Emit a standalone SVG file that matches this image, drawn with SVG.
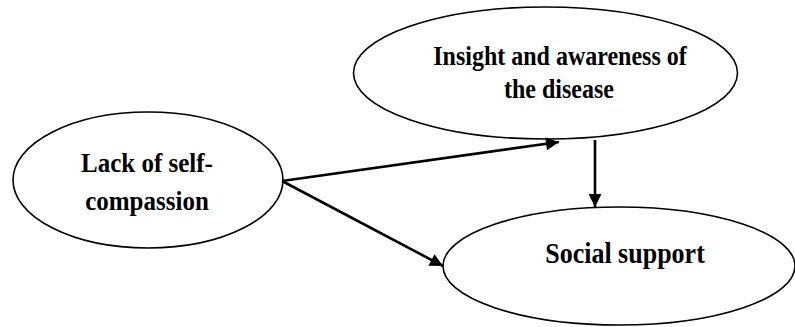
<svg xmlns="http://www.w3.org/2000/svg" width="795" height="327" viewBox="0 0 795 327">
<style>
.node ellipse{fill:#fff;stroke:#000;stroke-width:1.6}
.node text{font-family:"Liberation Serif","Times New Roman",serif;font-weight:bold;fill:#000;text-anchor:middle}
.edge{stroke:#000;stroke-width:2.6;fill:none;marker-end:url(#ah)}
</style>
<defs>
<marker id="ah" viewBox="0 0 10 10" refX="10" refY="5" markerUnits="userSpaceOnUse" markerWidth="17" markerHeight="13" orient="auto">
<path d="M0,0 L10,5 L0,10 z" fill="#000"/>
</marker>
</defs>
<rect width="795" height="327" fill="#fff"/>
<g id="lack" class="node">
<ellipse cx="148" cy="180" rx="135" ry="68"/>
<text transform="translate(147,172) scale(1,1.12)" font-size="25">Lack of self-</text>
<text transform="translate(147,210) scale(1,1.12)" font-size="25">compassion</text>
</g>
<g id="insight" class="node">
<ellipse cx="545.5" cy="73" rx="192" ry="66"/>
<text transform="translate(560,65) scale(1,1.15)" font-size="24">Insight and awareness of</text>
<text transform="translate(559,98) scale(1,1.15)" font-size="24">the disease</text>
</g>
<g id="support" class="node">
<ellipse cx="619" cy="266" rx="176" ry="59"/>
<text transform="translate(625,263) scale(1,1.12)" font-size="26">Social support</text>
</g>
<g id="connectors">
<line class="edge" x1="282" y1="181" x2="559" y2="142"/>
<line class="edge" x1="282" y1="181" x2="443" y2="266"/>
<line class="edge" x1="595" y1="140" x2="595" y2="207"/>
</g>
</svg>
